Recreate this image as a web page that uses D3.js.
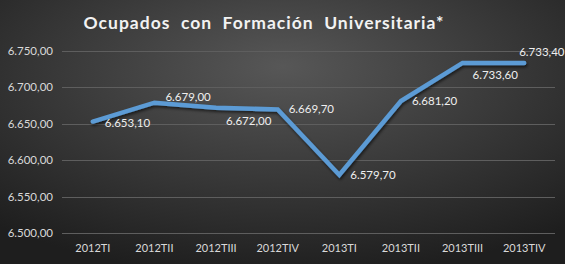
<!DOCTYPE html>
<html><head><meta charset="utf-8">
<script src="https://cdn.jsdelivr.net/npm/d3@7/dist/d3.min.js"></script>
<style>html,body{margin:0;padding:0;background:#222;}svg{display:block;}</style>
</head><body>
<script>
const categories = ["2012TI","2012TII","2012TIII","2012TIV","2013TI","2013TII","2013TIII","2013TIV"];
const values = [6653.1, 6679.0, 6672.0, 6669.7, 6579.7, 6681.2, 6733.6, 6733.4];
const valueLabels = ["6.653,10","6.679,00","6.672,00","6.669,70","6.579,70","6.681,20","6.733,60","6.733,40"];
const yTicks = [6500, 6550, 6600, 6650, 6700, 6750];
const title = "Ocupados  con  Formación  Universitaria*";
// label placement relative to point (style, not data)
const labelOffsets = [[12,1],[11,-6],[10,13],[11,0],[11,0],[11,0],[10,12],[-5,-11]];

const W = 565, H = 264;
const m = {left: 62, right: 10, top: 51, bottom: 31};
const svg = d3.select("body").append("svg").attr("width", W).attr("height", H);
const defs = svg.append("defs");
const g = defs.append("radialGradient").attr("id","bg").attr("cx","50%").attr("cy","30%").attr("r","75%")
  .attr("fx","50%").attr("fy","25%");
g.append("stop").attr("offset","0%").attr("stop-color","#575757");
g.append("stop").attr("offset","100%").attr("stop-color","#1e1e1e");
svg.append("rect").attr("width",W).attr("height",H).attr("fill","url(#bg)");

const f = defs.append("filter").attr("id","sh").attr("x","-10%").attr("y","-10%").attr("width","120%").attr("height","130%");
f.append("feDropShadow").attr("dx",1).attr("dy",2).attr("stdDeviation",1.5).attr("flood-color","#000").attr("flood-opacity",0.6);

const x = d3.scaleBand().domain(categories).range([m.left, W - m.right]);
const y = d3.scaleLinear().domain([6500, 6750]).range([233, 51]);

const fmt = d => d3.format(",.2f")(d).replace(/,/g,"X").replace(/\./g,",").replace(/X/g,".");

svg.append("g").selectAll("line").data(yTicks).join("line")
  .attr("x1", m.left).attr("x2", W - m.right)
  .attr("y1", d => Math.round(y(d)) + 0.5).attr("y2", d => Math.round(y(d)) + 0.5)
  .attr("stroke", "#5e5e5e").attr("stroke-width", 1);

const font = "Lato, 'Open Sans', sans-serif";
svg.append("g").selectAll("text").data(yTicks).join("text")
  .attr("x", 53).attr("y", d => y(d)).attr("dy","0.35em")
  .attr("text-anchor","end").attr("fill","#d9d9d9")
  .style("font-family", font).style("font-size","11.5px")
  .text(fmt);

svg.append("g").selectAll("text").data(categories).join("text")
  .attr("x", d => x(d) + x.bandwidth()/2).attr("y", 248).attr("dy","0.35em")
  .attr("text-anchor","middle").attr("fill","#d9d9d9")
  .style("font-family", font).style("font-size","11px")
  .text(d => d);

const line = d3.line().x((d,i) => x(categories[i]) + x.bandwidth()/2).y(d => y(d));
svg.append("path").datum(values).attr("d", line)
  .attr("fill","none").attr("stroke","#5b9bd5").attr("stroke-width",4.5)
  .attr("stroke-linejoin","miter").attr("stroke-linecap","round")
  .attr("filter","url(#sh)");

svg.append("g").selectAll("text").data(values).join("text")
  .attr("x", (d,i) => x(categories[i]) + x.bandwidth()/2 + labelOffsets[i][0])
  .attr("y", (d,i) => y(d) + labelOffsets[i][1]).attr("dy","0.35em")
  .attr("text-anchor","start").attr("fill","#efefef")
  .style("font-family", font).style("font-size","11.5px")
  .text((d,i) => valueLabels[i]);

svg.append("text").attr("x", 264).attr("y", 23).attr("dy","0.35em")
  .attr("text-anchor","middle").attr("fill","#f2f2f2")
  .style("font-family", font).style("font-size","17.5px").style("font-weight","bold")
  .style("letter-spacing","1px").style("white-space","pre")
  .text(title);
</script>
</body></html>
